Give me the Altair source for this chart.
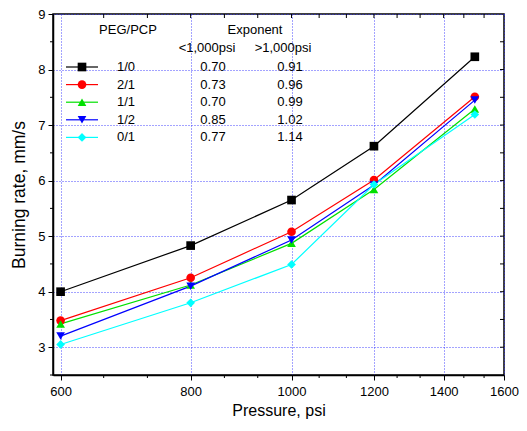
import altair as alt
import pandas as pd

pressure = [600, 800, 1000, 1200, 1500]
series = ["1/0", "2/1", "1/1", "1/2", "0/1"]
rates = {
    "1/0": [4.00, 4.83, 5.65, 6.62, 8.23],
    "2/1": [3.48, 4.25, 5.08, 6.01, 7.51],
    "1/1": [3.42, 4.12, 4.87, 5.84, 7.29],
    "1/2": [3.20, 4.10, 4.93, 5.92, 7.45],
    "0/1": [3.05, 3.80, 4.49, 5.93, 7.19],
}
exp_low = ["0.70", "0.73", "0.70", "0.85", "0.77"]
exp_high = ["0.91", "0.96", "0.99", "1.02", "1.14"]
colors = ["#000000", "#ff0000", "#00e000", "#0000ff", "#00ffff"]
shapes = ["square", "circle", "triangle-up", "triangle-down", "diamond"]

x_major = [600, 800, 1000, 1200, 1400, 1600]
x_minor = [660, 727, 862, 928, 1063, 1129, 1263, 1329, 1464, 1531]
y_major = [3, 4, 5, 6, 7, 8, 9]
y_minor = [2.5, 3.5, 4.5, 5.5, 6.5, 7.5, 8.5]

FONT = "Liberation Sans"
W, H = 451, 361

rows = []
for s in series:
    for p, r in zip(pressure, rates[s]):
        rows.append({"series": s, "pressure": p, "rate": r})
df = pd.DataFrame(rows)

leg = pd.DataFrame({"series": series, "lo": exp_low, "hi": exp_high,
                    "row": list(range(len(series)))})

xscale = alt.Scale(type="log", domain=[590, 1600], nice=False, zero=False)
yscale = alt.Scale(domain=[2.5, 9], nice=False, zero=False)
cscale = alt.Scale(domain=series, range=colors)
sscale = alt.Scale(domain=series, range=shapes)

x_enc = alt.X("pressure:Q", scale=xscale,
              axis=alt.Axis(values=x_major, title="Pressure, psi", format="d",
                            grid=True, tickSize=5, labelPadding=5,
                            labelFlush=False, titlePadding=4,
                            titleFontSize=16))
y_enc = alt.Y("rate:Q", scale=yscale,
              axis=alt.Axis(values=y_major, title="Burning rate, mm/s",
                            format="d", grid=True, tickSize=5,
                            labelPadding=3, titlePadding=9,
                            labelFlush=False, titleFontSize=17.5))

lines = alt.Chart(df).mark_line(strokeWidth=1.2).encode(
    x=x_enc, y=y_enc,
    color=alt.Color("series:N", scale=cscale, legend=None),
)
points = alt.Chart(df).mark_point(filled=True, size=75, opacity=1).encode(
    x="pressure:Q", y="rate:Q",
    color=alt.Color("series:N", scale=cscale, legend=None),
    shape=alt.Shape("series:N", scale=sscale, legend=None),
)

# minor / frame ticks
xminor_df = pd.DataFrame({"pressure": x_minor})
xall_df = pd.DataFrame({"pressure": x_major[1:-1] + x_minor})
yminor_df = pd.DataFrame({"rate": y_minor})
yall_df = pd.DataFrame({"rate": y_major[:-1] + y_minor[1:]})

tick_style = dict(color="black", strokeWidth=1)
bx_minor = alt.Chart(xminor_df).mark_rule(**tick_style).encode(
    x="pressure:Q", y=alt.value(H), y2=alt.value(H + 3))
tx_ticks = alt.Chart(xall_df).mark_rule(**tick_style).encode(
    x="pressure:Q", y=alt.value(0), y2=alt.value(4))
ly_minor = alt.Chart(yminor_df).mark_rule(**tick_style).encode(
    y="rate:Q", x=alt.value(0), x2=alt.value(-3))
ry_ticks = alt.Chart(yall_df).mark_rule(**tick_style).encode(
    y="rate:Q", x=alt.value(W), x2=alt.value(W - 4))

# in-plot legend table
leg_base = alt.Chart(leg).transform_calculate(ly="53 + 17.6 * datum.row")
leg_line = leg_base.mark_rule(strokeWidth=1.2).encode(
    x=alt.value(13), x2=alt.value(45),
    y=alt.Y("ly:Q", scale=None),
    color=alt.Color("series:N", scale=cscale, legend=None))
leg_pt = leg_base.mark_point(filled=True, size=75, opacity=1).encode(
    x=alt.value(29),
    y=alt.Y("ly:Q", scale=None),
    color=alt.Color("series:N", scale=cscale, legend=None),
    shape=alt.Shape("series:N", scale=sscale, legend=None))
txt = dict(font=FONT, fontSize=13, color="black", align="center",
           baseline="middle")
leg_lab = leg_base.mark_text(**txt).encode(
    x=alt.value(73), y=alt.Y("ly:Q", scale=None), text="series:N")
leg_lo = leg_base.mark_text(**txt).encode(
    x=alt.value(160), y=alt.Y("ly:Q", scale=None), text="lo:N")
leg_hi = leg_base.mark_text(**txt).encode(
    x=alt.value(237), y=alt.Y("ly:Q", scale=None), text="hi:N")

hdr_src = alt.Chart(pd.DataFrame({"a": [0]}))
h1 = hdr_src.mark_text(text="PEG/PCP", **txt).encode(x=alt.value(75), y=alt.value(16))
h2 = hdr_src.mark_text(text="Exponent", **txt).encode(x=alt.value(202), y=alt.value(16))
h3 = hdr_src.mark_text(text="<1,000psi", **txt).encode(x=alt.value(154), y=alt.value(34))
h4 = hdr_src.mark_text(text=">1,000psi", **txt).encode(x=alt.value(230), y=alt.value(34))

chart = alt.layer(
    lines, points, bx_minor, tx_ticks, ly_minor, ry_ticks,
    leg_line, leg_pt, leg_lab, leg_lo, leg_hi, h1, h2, h3, h4,
).properties(
    width=W, height=H,
    autosize=alt.AutoSizeParams(type="none"),
    padding={"left": 45, "top": 6, "right": 15, "bottom": 48},
).configure_view(
    stroke="black", strokeWidth=1.5,
).configure_axis(
    labelFont=FONT, titleFont=FONT, labelFontSize=13,
    titleFontWeight="normal", labelColor="black", titleColor="black",
    domainColor="black", domainWidth=1.5, tickColor="black", tickWidth=1,
    gridColor="#3333ff", gridDash=[1, 2], gridWidth=1, gridOpacity=0.9,
)

chart.save("out.html", embed_options={"renderer": "svg", "actions": False})
